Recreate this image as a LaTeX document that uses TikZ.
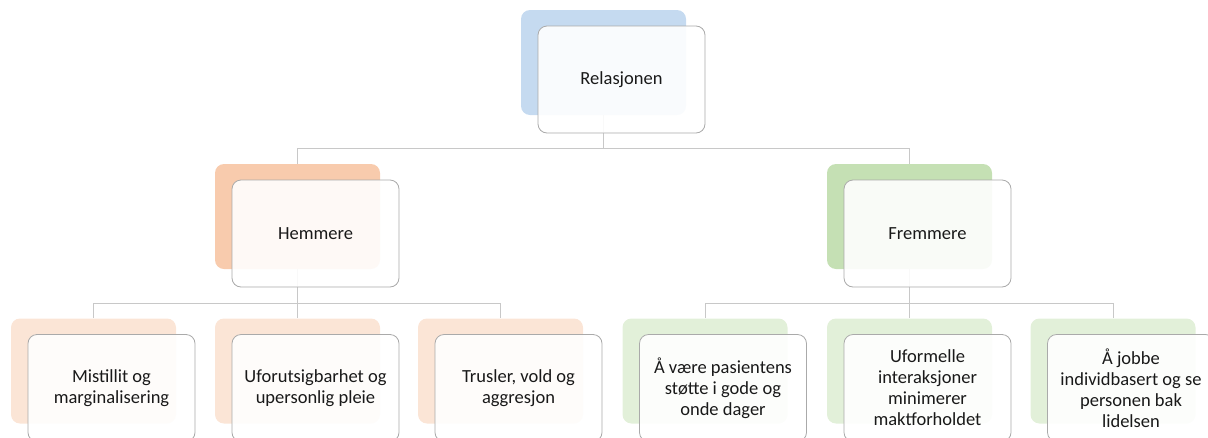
\documentclass[tikz,border=0pt]{standalone}
\usepackage{fontspec}
\setmainfont{Carlito}
\usetikzlibrary{positioning}
\definecolor{rootblue}{RGB}{197,218,240}
\definecolor{hemorange}{RGB}{248,203,173}
\definecolor{fremgreen}{RGB}{197,224,180}
\definecolor{leaforange}{RGB}{251,229,214}
\definecolor{leafgreen}{RGB}{226,240,217}
\definecolor{framegray}{RGB}{170,170,170}
\definecolor{linegray}{RGB}{200,200,200}
\definecolor{textgray}{RGB}{25,25,25}
\begin{document}
\begin{tikzpicture}[x=1pt,y=-1pt,
    back node/.style={minimum width=165pt,minimum height=105pt,rounded corners=9pt,inner sep=0pt},
    front node/.style={draw=framegray,line width=0.8pt,fill=white,fill opacity=0.9,text opacity=1,
      minimum width=167pt,minimum height=107pt,rounded corners=9pt,align=center,text=textgray,
      font=\fontsize{18.5}{21}\selectfont},
    link/.style={draw=linegray,line width=0.9pt}]
    \useasboundingbox (0,0) rectangle (1208,437);
    \clip (0,0) rectangle (1208,437);

    % coloured boxes behind
    \node[back node,fill=rootblue] (rootb) at (603.5,62.5) {};
    \node[back node,fill=hemorange] (hemb) at (297.5,216.5) {};
    \node[back node,fill=fremgreen] (fremb) at (909.5,216.5) {};
    \node[back node,fill=leaforange] (h1b) at (93.5,371) {};
    \node[back node,fill=leaforange] (h2b) at (297.5,371) {};
    \node[back node,fill=leaforange] (h3b) at (500.5,371) {};
    \node[back node,fill=leafgreen] (f1b) at (705,371) {};
    \node[back node,fill=leafgreen] (f2b) at (909.5,371) {};
    \node[back node,fill=leafgreen] (f3b) at (1113,371) {};

    % connectors
    \path[link] (rootb.south) -- ++(0,33) -| (hemb.north);
    \path[link] (rootb.south) -- ++(0,33) -| (fremb.north);
    \foreach \leaf in {h1b,h2b,h3b}
      \path[link] (hemb.south) -- ++(0,34) -| (\leaf.north);
    \foreach \leaf in {f1b,f2b,f3b}
      \path[link] (fremb.south) -- ++(0,34) -| (\leaf.north);

    % white boxes in front
    \node[front node] (root) at ([shift={(18,17)}]rootb.center) {Relasjonen};
    \node[front node] (hem) at ([shift={(18,17)}]hemb.center) {Hemmere};
    \node[front node] (frem) at ([shift={(18,17)}]fremb.center) {Fremmere};
    \node[front node] (h1) at ([shift={(18,17)}]h1b.center) {Mistillit og\\marginalisering};
    \node[front node] (h2) at ([shift={(18,17)}]h2b.center) {Uforutsigbarhet og\\upersonlig pleie};
    \node[front node] (h3) at ([shift={(18,17)}]h3b.center) {Trusler, vold og\\aggresjon};
    \node[front node] (f1) at ([shift={(18,17)}]f1b.center) {Å være pasientens\\støtte i gode og\\onde dager};
    \node[front node] (f2) at ([shift={(18,17)}]f2b.center) {Uformelle\\interaksjoner\\minimerer\\maktforholdet};
    \node[front node] (f3) at ([shift={(18,17)}]f3b.center) {Å jobbe\\individbasert og se\\personen bak\\lidelsen};
  \end{tikzpicture}
\end{document}
